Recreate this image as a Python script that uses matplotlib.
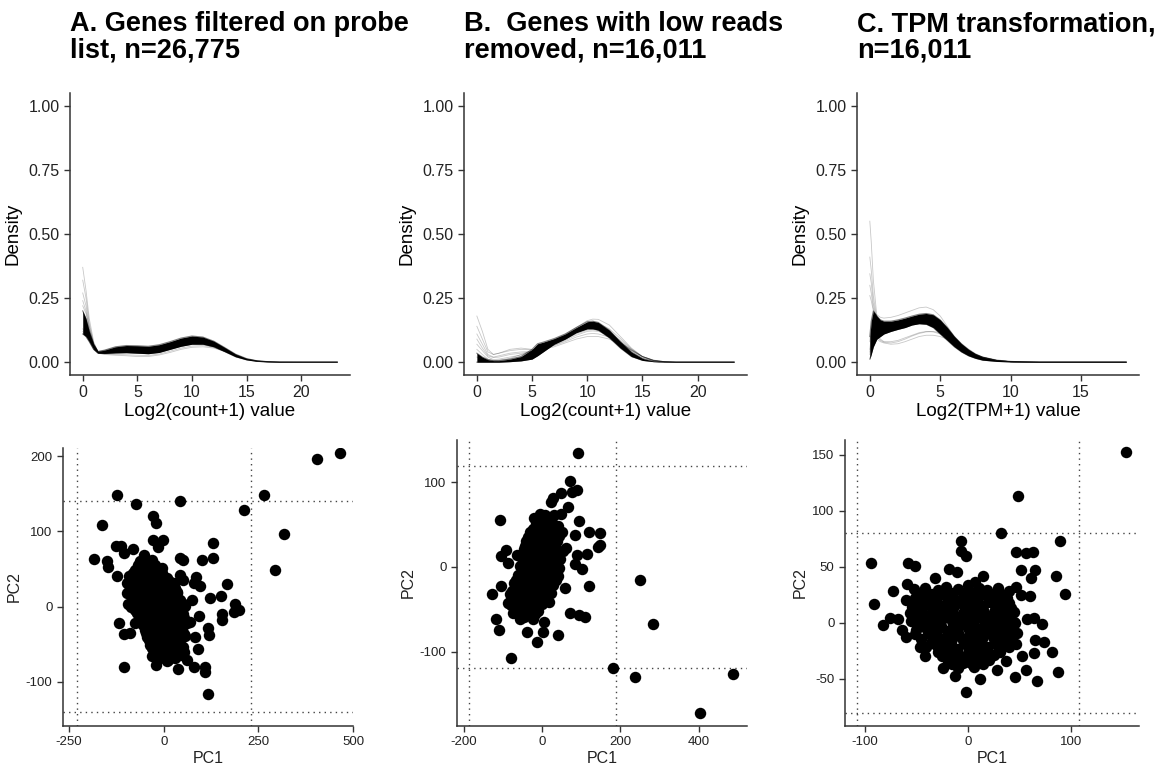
import numpy as np
import matplotlib.pyplot as plt

plt.rcParams['font.family'] = ['Liberation Sans', 'DejaVu Sans']
plt.rcParams['axes.unicode_minus'] = False

# ---- density panels ----
dens_a_x = [0, 0.3, 0.6, 1.0, 1.4, 2, 3, 4, 5, 6, 7, 8, 9, 10, 11, 12, 13, 14, 15, 16, 17, 18, 20, 23.3]
dens_a_hi = [0.20, 0.17, 0.12, 0.07, 0.042, 0.047, 0.060, 0.065, 0.064, 0.062, 0.068, 0.080,
             0.094, 0.102, 0.098, 0.082, 0.057, 0.031, 0.014, 0.005, 0.002, 0.0005, 0, 0]
dens_a_lo = [0.11, 0.10, 0.08, 0.05, 0.035, 0.034, 0.036, 0.037, 0.035, 0.033, 0.038, 0.050,
             0.062, 0.070, 0.070, 0.060, 0.041, 0.021, 0.009, 0.003, 0.001, 0, 0, 0]
dens_a_out = [
    [0.37, 0.28, 0.17, 0.08, 0.040, 0.040, 0.045, 0.050, 0.050, 0.050, 0.055, 0.065, 0.075, 0.082, 0.080, 0.068, 0.048, 0.026, 0.011, 0.004, 0.001, 0, 0, 0],
    [0.32, 0.25, 0.15, 0.075, 0.040, 0.042, 0.050, 0.055, 0.055, 0.054, 0.060, 0.070, 0.082, 0.090, 0.088, 0.074, 0.052, 0.028, 0.012, 0.004, 0.001, 0, 0, 0],
    [0.27, 0.22, 0.14, 0.07, 0.040, 0.044, 0.055, 0.060, 0.060, 0.058, 0.064, 0.075, 0.088, 0.096, 0.093, 0.078, 0.054, 0.029, 0.012, 0.005, 0.002, 0, 0, 0],
    [0.24, 0.20, 0.13, 0.07, 0.041, 0.043, 0.052, 0.056, 0.054, 0.052, 0.058, 0.070, 0.085, 0.095, 0.092, 0.078, 0.054, 0.029, 0.012, 0.005, 0.002, 0, 0, 0],
    [0.22, 0.19, 0.13, 0.07, 0.041, 0.046, 0.058, 0.062, 0.060, 0.057, 0.062, 0.074, 0.088, 0.097, 0.094, 0.079, 0.055, 0.030, 0.013, 0.005, 0.002, 0, 0, 0],
    [0.13, 0.11, 0.085, 0.05, 0.035, 0.030, 0.027, 0.025, 0.022, 0.022, 0.028, 0.038, 0.050, 0.058, 0.060, 0.055, 0.042, 0.025, 0.012, 0.005, 0.002, 0, 0, 0],
    [0.12, 0.10, 0.08, 0.05, 0.035, 0.032, 0.030, 0.029, 0.027, 0.026, 0.032, 0.043, 0.055, 0.063, 0.065, 0.058, 0.043, 0.025, 0.011, 0.004, 0.001, 0, 0, 0],
]

dens_b_x = [0, 0.5, 1, 1.5, 2, 3, 4, 5, 5.5, 6, 7, 8, 9, 10, 10.5, 11, 12, 13, 14, 15, 16, 17, 18, 20, 23.3]
dens_b_hi = [0.035, 0.020, 0.010, 0.006, 0.006, 0.012, 0.022, 0.050, 0.072, 0.078, 0.092, 0.110,
             0.135, 0.158, 0.160, 0.155, 0.125, 0.080, 0.040, 0.015, 0.004, 0.001, 0, 0, 0]
dens_b_lo = [0, 0, 0, 0, 0, 0.002, 0.005, 0.012, 0.025, 0.040, 0.070, 0.090,
             0.115, 0.130, 0.130, 0.125, 0.095, 0.055, 0.022, 0.007, 0.002, 0, 0, 0, 0]
dens_b_out = [
    [0.180, 0.120, 0.050, 0.030, 0.035, 0.050, 0.055, 0.050, 0.050, 0.050, 0.060, 0.075, 0.090, 0.100, 0.100, 0.100, 0.090, 0.070, 0.045, 0.022, 0.008, 0.002, 0, 0, 0],
    [0.140, 0.090, 0.040, 0.030, 0.035, 0.045, 0.050, 0.048, 0.050, 0.052, 0.065, 0.080, 0.098, 0.110, 0.112, 0.110, 0.098, 0.075, 0.048, 0.022, 0.008, 0.002, 0, 0, 0],
    [0.110, 0.070, 0.030, 0.020, 0.025, 0.035, 0.040, 0.042, 0.045, 0.050, 0.066, 0.085, 0.105, 0.120, 0.122, 0.120, 0.105, 0.078, 0.048, 0.022, 0.007, 0.002, 0, 0, 0],
    [0.090, 0.055, 0.025, 0.018, 0.020, 0.030, 0.035, 0.040, 0.048, 0.055, 0.072, 0.090, 0.110, 0.125, 0.127, 0.124, 0.107, 0.078, 0.046, 0.020, 0.006, 0.001, 0, 0, 0],
    [0.070, 0.045, 0.020, 0.010, 0.012, 0.020, 0.028, 0.040, 0.050, 0.058, 0.075, 0.095, 0.115, 0.135, 0.138, 0.135, 0.115, 0.085, 0.050, 0.022, 0.007, 0.002, 0, 0, 0],
    [0.050, 0.030, 0.012, 0.006, 0.008, 0.015, 0.030, 0.045, 0.060, 0.068, 0.085, 0.105, 0.130, 0.150, 0.155, 0.152, 0.130, 0.092, 0.052, 0.022, 0.007, 0.002, 0, 0, 0],
    [0.020, 0.010, 0.005, 0.004, 0.005, 0.010, 0.020, 0.040, 0.060, 0.070, 0.088, 0.108, 0.135, 0.162, 0.168, 0.167, 0.145, 0.100, 0.055, 0.022, 0.006, 0.001, 0, 0, 0],
]

dens_c_x = [0, 0.1, 0.25, 0.5, 0.75, 1, 1.5, 2, 2.5, 3, 3.5, 4, 4.5, 5, 5.5, 6, 6.5, 7, 7.5, 8, 9, 10, 11, 12, 14, 16, 18.2]
dens_c_hi = [0.100, 0.160, 0.200, 0.180, 0.165, 0.160, 0.160, 0.165, 0.172, 0.180, 0.187, 0.190, 0.185,
             0.165, 0.135, 0.100, 0.072, 0.050, 0.032, 0.020, 0.008, 0.003, 0.001, 0, 0, 0, 0]
dens_c_lo = [0.012, 0.030, 0.060, 0.090, 0.100, 0.110, 0.120, 0.128, 0.135, 0.145, 0.150, 0.148, 0.135,
             0.110, 0.085, 0.060, 0.040, 0.025, 0.015, 0.008, 0.003, 0.001, 0, 0, 0, 0, 0]
dens_c_out = [
    [0.550, 0.470, 0.320, 0.180, 0.150, 0.140, 0.142, 0.150, 0.160, 0.170, 0.178, 0.180, 0.172, 0.155, 0.125, 0.093, 0.066, 0.045, 0.030, 0.019, 0.007, 0.002, 0.001, 0, 0, 0, 0],
    [0.410, 0.360, 0.260, 0.165, 0.145, 0.140, 0.145, 0.152, 0.162, 0.172, 0.180, 0.182, 0.175, 0.158, 0.128, 0.095, 0.068, 0.046, 0.030, 0.019, 0.007, 0.002, 0.001, 0, 0, 0, 0],
    [0.345, 0.310, 0.230, 0.160, 0.140, 0.135, 0.140, 0.148, 0.158, 0.168, 0.176, 0.180, 0.174, 0.158, 0.130, 0.097, 0.069, 0.047, 0.031, 0.020, 0.007, 0.002, 0.001, 0, 0, 0, 0],
    [0.300, 0.270, 0.210, 0.170, 0.155, 0.150, 0.152, 0.158, 0.166, 0.175, 0.183, 0.186, 0.180, 0.162, 0.132, 0.098, 0.070, 0.047, 0.031, 0.020, 0.007, 0.002, 0.001, 0, 0, 0, 0],
    [0.260, 0.240, 0.200, 0.165, 0.150, 0.145, 0.150, 0.156, 0.164, 0.172, 0.180, 0.184, 0.178, 0.160, 0.130, 0.097, 0.069, 0.046, 0.030, 0.019, 0.007, 0.002, 0.001, 0, 0, 0, 0],
    [0.030, 0.060, 0.090, 0.090, 0.080, 0.075, 0.070, 0.072, 0.080, 0.090, 0.100, 0.105, 0.105, 0.100, 0.090, 0.072, 0.054, 0.038, 0.026, 0.017, 0.006, 0.002, 0.001, 0, 0, 0, 0],
    [0.050, 0.100, 0.130, 0.110, 0.090, 0.080, 0.080, 0.085, 0.095, 0.105, 0.115, 0.120, 0.118, 0.110, 0.095, 0.075, 0.056, 0.040, 0.027, 0.017, 0.006, 0.002, 0.001, 0, 0, 0, 0],
    [0.040, 0.080, 0.110, 0.100, 0.085, 0.078, 0.075, 0.080, 0.090, 0.102, 0.112, 0.118, 0.120, 0.115, 0.102, 0.082, 0.062, 0.044, 0.030, 0.019, 0.007, 0.002, 0.001, 0, 0, 0, 0],
    [0.080, 0.140, 0.190, 0.185, 0.175, 0.172, 0.175, 0.182, 0.192, 0.202, 0.212, 0.215, 0.205, 0.180, 0.140, 0.100, 0.070, 0.047, 0.030, 0.019, 0.007, 0.002, 0.001, 0, 0, 0, 0],
]

# ---- PCA panels: (PC1, PC2) per sample ----
pca_a = [
    (-124, 149), (-74, 137), (44, 140), (-164, 109), (-183, 63), (-27, 120), (-20, 111),
    (-29, 88), (-2, 88), (-16, 79), (-80, 77), (-127, 80), (-114, 80), (131, 85), (131, 64),
    (101, 62), (44, 65), (50, 62), (211, 128), (266, 149), (319, 96), (293, 48), (405, 196),
    (465, 204), (-149, 61), (-146, 53), (-124, 40), (-106, 71), (-52, 69), (-4, 51), (85, 39),
    (96, 27), (167, 30), (121, 12), (151, 14), (188, 4), (198, -5), (185, -7), (154, -10),
    (154, -18), (118, -28), (120, -38), (90, -56), (83, -40), (94, -13), (70, -20), (43, 42),
    (52, 35), (79, 31), (-118, -22), (-106, -37), (-89, -35), (-104, -81), (-96, 18), (-93, 4),
    (-76, -22), (-32, -66), (-21, -78), (12, -71), (37, -83), (79, -80), (110, -80), (108, -87),
    (116, -116), (61, -71), (17, -53), (43, -44), (48, -31), (43, 9), (34, 20), (74, 9),
    (-62, 61), (-44, 58), (-31, 62), (-77, 49), (-56, 52), (-36, 47), (-14, 50),
    (-91, 41), (-69, 38), (-52, 42), (-29, 39), (-11, 41), (9, 38),
    (-96, 31), (-74, 28), (-57, 31), (-33, 29), (-16, 32), (6, 27), (26, 31),
    (-84, 19), (-66, 22), (-44, 18), (-26, 21), (-4, 17), (16, 22), (36, 18),
    (-81, 9), (-59, 11), (-41, 8), (-19, 12), (1, 9), (21, 11), (41, 7),
    (-86, -1), (-64, 2), (-46, -2), (-24, 1), (-6, -1), (14, 2), (33, -2), (56, 1),
    (-71, -9), (-49, -11), (-31, -8), (-9, -12), (11, -9), (29, -11), (51, -10),
    (-61, -21), (-39, -19), (-21, -22), (1, -18), (19, -21), (41, -19), (62, -22),
    (-49, -31), (-31, -29), (-11, -32), (9, -28), (31, -31), (49, -29),
    (-44, -41), (-26, -39), (-6, -42), (16, -38), (34, -41), (56, -39),
    (-36, -51), (-14, -49), (4, -52), (26, -48), (44, -51),
    (-24, -61), (-6, -59), (14, -62), (36, -58), (54, -61),
    (-11, -69), (9, -72), (29, -68),
    (-68, 55), (-52, 56), (-38, 54), (-22, 55),
    (-82, 45), (-62, 44), (-44, 46), (-24, 45), (-4, 44),
    (-86, 35), (-66, 36), (-46, 34), (-26, 35), (-6, 36), (14, 34),
    (-90, 25), (-70, 24), (-50, 26), (-30, 25), (-10, 24), (10, 26), (30, 25),
    (-74, 15), (-54, 14), (-34, 16), (-14, 15), (6, 14), (26, 16),
    (-70, 5), (-50, 6), (-30, 4), (-10, 5), (10, 6), (30, 4), (48, 5),
    (-76, -5), (-56, -4), (-36, -6), (-16, -5), (4, -4), (24, -6), (44, -5),
    (-66, -15), (-46, -14), (-26, -16), (-6, -15), (14, -14), (34, -16), (54, -15),
    (-54, -25), (-34, -24), (-14, -26), (6, -25), (26, -24), (46, -26),
    (-46, -35), (-26, -34), (-6, -36), (14, -35), (34, -34), (54, -36),
    (-40, -45), (-20, -44), (0, -46), (20, -45), (40, -44),
    (-30, -55), (-10, -54), (10, -56), (30, -55), (50, -54),
    (-16, -65), (4, -64), (24, -66), (44, -65),
]

pca_b = [
    (92, 135), (71, 102), (88, 91), (77, 89), (49, 87), (22, 77), (28, 81), (66, 71), (49, 63),
    (-20, 58), (7, 61), (94, 54), (-108, 55), (119, 41), (147, 40), (149, 26), (143, 23),
    (83, 38), (62, 22), (89, 14), (115, 15), (83, 3), (103, -2), (119, -23), (-93, 20),
    (-106, 13), (-87, 5), (-38, 14), (-63, 14), (-128, -32), (-104, -23), (-117, -61),
    (-110, -75), (-78, -108), (-38, -77), (-14, -89), (3, -77), (5, -65), (41, -81), (71, -55),
    (94, -57), (109, -59), (58, -25), (249, -16), (283, -68), (180, -119), (238, -130),
    (486, -126), (404, -173), (-87, -43), (-74, -55), (-57, -62), (-83, -32),
    (-4, 62), (16, 58), (31, 61),
    (-16, 51), (4, 49), (26, 52), (41, 48),
    (-31, 41), (-9, 39), (11, 42), (29, 38), (51, 41),
    (-41, 31), (-19, 29), (1, 32), (21, 28), (39, 31),
    (-46, 21), (-24, 19), (-6, 22), (14, 18), (36, 21), (54, 19),
    (-51, 11), (-29, 9), (-11, 12), (9, 8), (31, 11), (46, 9),
    (-56, 1), (-36, -1), (-14, 2), (6, -2), (24, 1), (44, -1),
    (-61, -9), (-39, -11), (-21, -8), (1, -12), (19, -9), (41, -11),
    (-71, -19), (-49, -21), (-31, -18), (-9, -22), (11, -19), (29, -21),
    (-76, -29), (-54, -31), (-36, -28), (-14, -32), (6, -29), (24, -31),
    (-79, -39), (-61, -41), (-39, -38), (-21, -42), (-1, -39), (19, -41),
    (-69, -49), (-51, -51), (-29, -48), (-11, -52),
    (-46, -59), (-24, -61),
    (5, 55), (22, 56),
    (-24, 45), (-6, 46), (14, 44), (34, 45),
    (-36, 35), (-16, 36), (4, 34), (24, 35), (44, 36),
    (-44, 25), (-26, 26), (-4, 24), (16, 25), (34, 26),
    (-48, 15), (-36, 16), (-18, 14), (2, 15), (22, 16), (40, 14),
    (-46, 5), (-26, 6), (-4, 4), (16, 5), (36, 6),
    (-50, -5), (-30, -4), (-10, -6), (10, -5), (30, -4),
    (-66, -15), (-46, -14), (-24, -16), (-4, -15), (16, -14), (36, -16),
    (-66, -25), (-44, -24), (-24, -26), (-4, -25), (14, -24),
    (-70, -35), (-50, -34), (-30, -36), (-10, -35), (10, -34),
    (-80, -45), (-60, -44), (-40, -46), (-20, -45), (0, -44),
    (-60, -55), (-38, -54), (-18, -56),
]

pca_c = [
    (49, 113), (32, 80), (89, 73), (-7, 73), (-7, 64), (-2, 60), (47, 63), (56, 62), (63, 63),
    (52, 47), (65, 47), (61, 40), (86, 42), (94, 26), (-94, 53), (-58, 53), (-51, 51),
    (-91, 17), (-82, -2), (-72, 28), (-59, 35), (-18, 48), (-10, 45), (15, 42), (-32, 40),
    (47, 32), (52, 25), (60, 24), (31, 25), (74, -17), (82, -26), (87, -44), (67, -52),
    (46, -48), (56, -42), (37, -34), (28, -42), (12, -50), (-2, -62), (-12, -47), (-24, -40),
    (-41, -30), (-46, -22), (-60, -13), (-68, 3), (-75, 4), (64, -27), (65, -15), (72, -1),
    (64, 4), (57, 3), (48, -9), (47, -19), (53, -30), (46, 0), (38, 16), (21, 21), (0, 34),
    (7, 36), (153, 152), (-60, 20), (-56, 9), (-64, -6),
    (-41, 31), (-29, 29), (-21, 32), (-9, 30), (1, 28), (11, 31), (19, 29), (29, 31),
    (-51, 22), (-39, 21), (-31, 23), (-19, 22), (-11, 20), (-1, 23), (9, 21), (21, 23), (31, 21), (38, 22),
    (-54, 14), (-44, 13), (-36, 15), (-24, 14), (-14, 13), (-4, 15), (6, 14), (14, 13), (26, 15), (34, 14), (42, 13),
    (-49, 6), (-41, 5), (-29, 7), (-21, 6), (-9, 5), (1, 7), (11, 6), (19, 5), (29, 7), (41, 6),
    (-46, -2), (-34, -1), (-26, -3), (-14, -2), (-4, -1), (6, -3), (16, -2), (24, -1), (36, -3), (42, -2),
    (-51, -10), (-39, -9), (-31, -11), (-19, -10), (-9, -9), (1, -11), (9, -10), (21, -9), (29, -11), (38, -10),
    (-36, -18), (-24, -17), (-16, -19), (-4, -18), (6, -17), (14, -19), (26, -18), (34, -17),
    (-29, -26), (-21, -25), (-9, -27), (1, -26), (11, -25), (19, -27), (31, -26),
    (-19, -34), (-11, -33), (1, -35), (9, -34), (21, -33),
    (-9, -40), (6, -39),
    (-35, 26), (-15, 27), (5, 25), (25, 26), (-45, 18), (-5, 19), (30, 18), (-35, 2), (0, 1),
    (33, 2), (-25, -14), (10, -14), (-15, -30), (15, -30), (-52, 30), (40, 28),
    (-45, 26), (-25, 26), (-5, 27), (15, 26), (35, 25),
    (-50, 18), (-40, 17), (-30, 18), (-20, 19), (-10, 18), (0, 17), (10, 18), (20, 19), (40, 18),
    (-52, 10), (-45, 9), (-35, 10), (-25, 11), (-15, 10), (-5, 9), (5, 10), (15, 11), (25, 10), (35, 9), (45, 10),
    (-55, 2), (-45, 1), (-25, 3), (-15, 2), (-5, 1), (5, 2), (15, 3), (25, 2), (45, 1),
    (-50, -6), (-40, -5), (-30, -6), (-20, -7), (-10, -6), (0, -5), (10, -6), (20, -7), (30, -6), (40, -5),
    (-45, -14), (-35, -13), (-15, -14), (-5, -15), (5, -14), (15, -13), (25, -14), (35, -15), (42, -14),
    (-40, -22), (-30, -21), (-20, -22), (-10, -23), (0, -22), (10, -21), (20, -22), (30, -23), (40, -22),
    (-25, -30), (-5, -31), (5, -30), (25, -29),
    (-15, -37), (-5, -36), (5, -38), (15, -37),
]

# cut-off lines (PC1 limits, PC2 limits) per panel
cut_a = (-230, 230, -141, 141)
cut_b = (-186, 188, -119, 119)
cut_c = (-107, 108, -80, 80)

titles = ['A. Genes filtered on probe\nlist, n=26,775',
          'B.  Genes with low reads\nremoved, n=16,011',
          'C. TPM transformation,\nn=16,011']
dens_xlabels = ['Log2(count+1) value', 'Log2(count+1) value', 'Log2(TPM+1) value']

W, H = 1159, 771
fig = plt.figure(figsize=(W / 100, H / 100), dpi=100)


def px_axes(left, top, right, bottom):
    return fig.add_axes([left / W, 1 - bottom / H, (right - left) / W, (bottom - top) / H])


def style(ax, tick_size):
    for s in ['top', 'right']:
        ax.spines[s].set_visible(False)
    for s in ['left', 'bottom']:
        ax.spines[s].set_color('#333333')
        ax.spines[s].set_linewidth(1.1)
    ax.tick_params(direction='out', length=4, width=1.0, color='#333333',
                   labelsize=tick_size, labelcolor='#222222')


dens_axes = [px_axes(70, 93, 350, 375), px_axes(464, 93, 747, 375), px_axes(857, 93, 1139, 375)]
dens_data = [(dens_a_x, dens_a_lo, dens_a_hi, dens_a_out),
             (dens_b_x, dens_b_lo, dens_b_hi, dens_b_out),
             (dens_c_x, dens_c_lo, dens_c_hi, dens_c_out)]
dens_xlim = [(-1.165, 24.47), (-1.165, 24.47), (-0.91, 19.11)]
dens_xticks = [[0, 5, 10, 15, 20], [0, 5, 10, 15, 20], [0, 5, 10, 15]]

for i, ax in enumerate(dens_axes):
    x, lo, hi, outs = dens_data[i]
    for o in outs:
        ax.plot(x, o, color='black', alpha=0.22, lw=0.6)
    ax.fill_between(x, lo, hi, color='black', lw=0)
    ax.plot(x, hi, color='black', alpha=0.5, lw=0.8)
    ax.plot(x, lo, color='black', alpha=0.5, lw=0.8)
    ax.set_xlim(*dens_xlim[i])
    ax.set_ylim(-0.05, 1.05)
    ax.set_xticks(dens_xticks[i])
    ax.set_yticks([0, 0.25, 0.5, 0.75, 1.0])
    ax.set_yticklabels(['0.00', '0.25', '0.50', '0.75', '1.00'])
    style(ax, 11.5)
    ax.set_xlabel(dens_xlabels[i], fontsize=13.5, color='black', labelpad=2)
    ax.set_ylabel('Density', fontsize=13.5, color='black', labelpad=5)
    fig.text(dens_axes[i].get_position().x0, 1 - 11 / H, titles[i], fontsize=19.5,
             fontweight='bold', va='top', ha='left', linespacing=1.05)

pca_axes = [px_axes(63, 448, 353, 726), px_axes(457, 440, 747, 726), px_axes(845, 440, 1139, 726)]
pca_data = [pca_a, pca_b, pca_c]
cuts = [cut_a, cut_b, cut_c]
pca_xlim = [(-266, 500), (-217, 523), (-119, 166)]
pca_ylim = [(-159, 211), (-188, 150), (-92, 163)]
pca_xticks = [[-250, 0, 250, 500], [-200, 0, 200, 400], [-100, 0, 100]]
pca_yticks = [[-100, 0, 100, 200], [-100, 0, 100], [-50, 0, 50, 100, 150]]

for i, ax in enumerate(pca_axes):
    pts = np.array(pca_data[i])
    x0, x1, y0, y1 = cuts[i]
    for v in (x0, x1):
        ax.axvline(v, color='#444444', lw=1.0, ls=(0, (1, 3)), zorder=1)
    for h in (y0, y1):
        ax.axhline(h, color='#444444', lw=1.0, ls=(0, (1, 3)), zorder=1)
    ax.scatter(pts[:, 0], pts[:, 1], s=68, color='black', lw=0, zorder=3)
    ax.set_xlim(*pca_xlim[i])
    ax.set_ylim(*pca_ylim[i])
    ax.set_xticks(pca_xticks[i])
    ax.set_yticks(pca_yticks[i])
    style(ax, 9.5)
    ax.set_xlabel('PC1', fontsize=11.5, color='#222222', labelpad=2)
    ax.set_ylabel('PC2', fontsize=11.5, color='#222222', labelpad=3)

fig.savefig('out.png', dpi=100, facecolor='white')
